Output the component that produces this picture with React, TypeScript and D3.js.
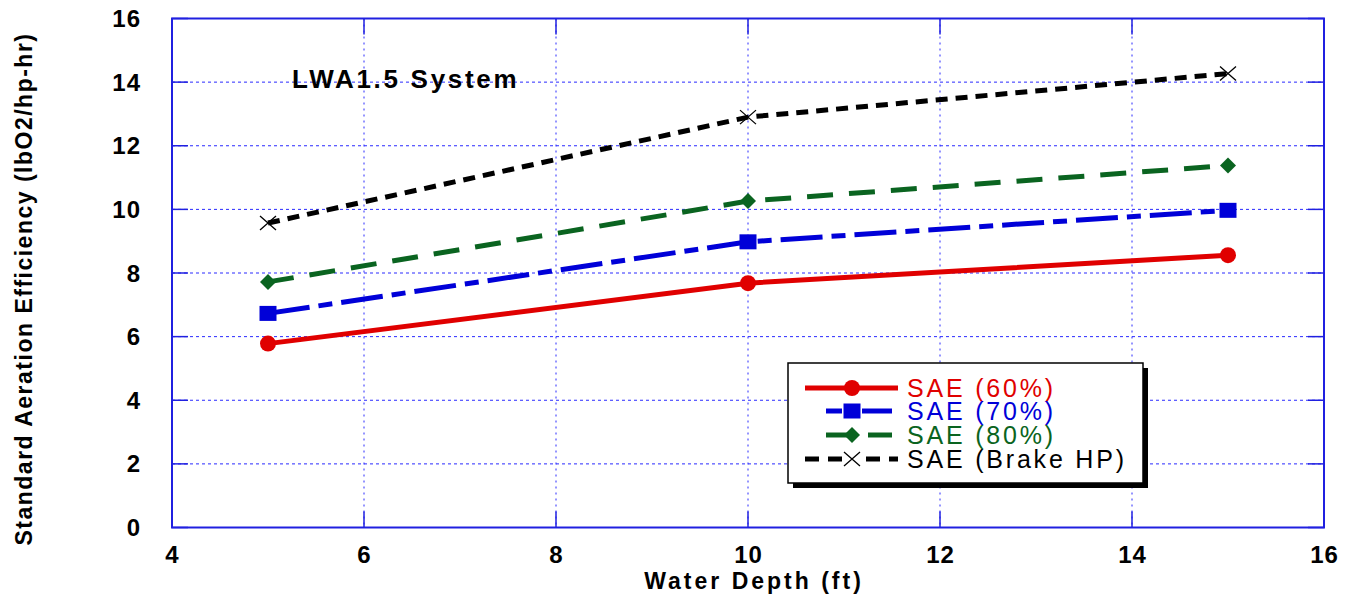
import { useEffect, useRef } from 'react';
import * as d3 from 'd3';

const depths = [5, 10, 15];
const sae60 = [5.78, 7.68, 8.56];
const sae70 = [6.73, 8.98, 9.97];
const sae80 = [7.72, 10.26, 11.38];
const saeBrake = [9.57, 12.9, 14.27];
const xTicks = [4, 6, 8, 10, 12, 14, 16];
const yTicks = [0, 2, 4, 6, 8, 10, 12, 14, 16];

const seriesNames = ['SAE (60%)', 'SAE (70%)', 'SAE (80%)', 'SAE (Brake HP)'];

const W = 1356;
const H = 598;
const M = { left: 172, right: 1324, top: 18.5, bottom: 527.5 };

const FONT = 'Arial, "Liberation Sans", Helvetica, sans-serif';

export default function App() {
  const svgRef = useRef<SVGSVGElement>(null);

  useEffect(() => {
    const svg = d3.select(svgRef.current);
    svg.selectAll('*').remove();

    const x = d3.scaleLinear().domain([4, 16]).range([M.left, M.right]);
    const y = d3.scaleLinear().domain([0, 16]).range([M.bottom, M.top]);

    const styles = [
      { values: sae60, color: '#e00000', dash: null, marker: 'circle' },
      { values: sae70, color: '#0000d8', dash: '42,9,14,9', marker: 'square' },
      { values: sae80, color: '#0a6420', dash: '26,16', marker: 'diamond' },
      { values: saeBrake, color: '#000000', dash: '12,8', marker: 'x' },
    ];

    // grid
    const grid = svg.append('g');
    yTicks.slice(1, -1).forEach(t => {
      grid.append('line').attr('x1', M.left).attr('x2', M.right).attr('y1', y(t)).attr('y2', y(t))
        .attr('stroke', '#2a2aff').attr('stroke-width', 1).attr('stroke-dasharray', '3,3');
    });
    xTicks.slice(1, -1).forEach(t => {
      grid.append('line').attr('y1', M.top).attr('y2', M.bottom).attr('x1', x(t)).attr('x2', x(t))
        .attr('stroke', '#2a2aff').attr('stroke-width', 1).attr('stroke-dasharray', '2,4');
    });

    // inner ticks
    const tk = 16;
    yTicks.forEach(t => {
      svg.append('line').attr('x1', M.left).attr('x2', M.left + tk).attr('y1', y(t)).attr('y2', y(t)).attr('stroke', '#2020e0').attr('stroke-width', 1.5);
      svg.append('line').attr('x1', M.right - tk).attr('x2', M.right).attr('y1', y(t)).attr('y2', y(t)).attr('stroke', '#2020e0').attr('stroke-width', 1.5);
    });
    xTicks.forEach(t => {
      svg.append('line').attr('y1', M.bottom).attr('y2', M.bottom - tk).attr('x1', x(t)).attr('x2', x(t)).attr('stroke', '#2020e0').attr('stroke-width', 1.5);
      svg.append('line').attr('y1', M.top).attr('y2', M.top + tk).attr('x1', x(t)).attr('x2', x(t)).attr('stroke', '#2020e0').attr('stroke-width', 1.5);
    });

    // frame
    svg.append('rect').attr('x', M.left).attr('y', M.top).attr('width', M.right - M.left).attr('height', M.bottom - M.top)
      .attr('fill', 'none').attr('stroke', '#2020e0').attr('stroke-width', 2);

    // tick labels
    svg.append('g').selectAll('text').data(yTicks).join('text')
      .attr('x', 141).attr('y', d => y(d) + 8.5).attr('text-anchor', 'end')
      .attr('font-family', FONT).attr('font-weight', 'bold').attr('font-size', 24).attr('letter-spacing', 1).text(d => d);
    svg.append('g').selectAll('text').data(xTicks).join('text')
      .attr('x', d => x(d) + 0.5).attr('y', 563).attr('text-anchor', 'middle')
      .attr('font-family', FONT).attr('font-weight', 'bold').attr('font-size', 24).attr('letter-spacing', 1).text(d => d);

    // axis titles
    svg.append('text').attr('x', 754).attr('y', 589).attr('text-anchor', 'middle')
      .attr('font-family', FONT).attr('font-weight', 'bold').attr('font-size', 23).attr('letter-spacing', 3)
      .text('Water Depth (ft)');
    svg.append('text').attr('transform', `translate(32,289) rotate(-90)`).attr('text-anchor', 'middle')
      .attr('font-family', FONT).attr('font-weight', 'bold').attr('font-size', 23).attr('letter-spacing', 1.5)
      .text('Standard Aeration Efficiency (lbO2/hp-hr)');

    // title
    svg.append('text').attr('x', 292).attr('y', 88).attr('font-family', FONT).attr('font-weight', 'bold')
      .attr('font-size', 26).attr('letter-spacing', 2.7).text('LWA1.5 System');

    const drawMarker = (g: any, kind: string, cx: number, cy: number, color: string) => {
      if (kind === 'circle') g.append('circle').attr('cx', cx).attr('cy', cy).attr('r', 8).attr('fill', color);
      else if (kind === 'square') g.append('rect').attr('x', cx - 8.5).attr('y', cy - 7.5).attr('width', 17).attr('height', 15).attr('fill', color);
      else if (kind === 'diamond') g.append('path').attr('d', `M${cx},${cy - 8}L${cx + 8},${cy}L${cx},${cy + 8}L${cx - 8},${cy}Z`).attr('fill', color);
      else {
        g.append('path').attr('d', `M${cx - 8},${cy - 7}L${cx + 8},${cy + 7}M${cx - 8},${cy + 7}L${cx + 8},${cy - 7}`)
          .attr('stroke', color).attr('stroke-width', 1.3).attr('fill', 'none');
      }
    };

    const line = d3.line<number>().x((_, i) => x(depths[i])).y(d => y(d));
    styles.forEach(s => {
      const g = svg.append('g');
      g.append('path').attr('d', line(s.values)).attr('fill', 'none').attr('stroke', s.color)
        .attr('stroke-width', 5).attr('stroke-dasharray', s.dash as any);
      s.values.forEach((v, i) => drawMarker(g, s.marker, x(depths[i]), y(v), s.color));
    });

    // legend
    const lg = svg.append('g');
    lg.append('rect').attr('x', 793).attr('y', 368).attr('width', 355).attr('height', 120).attr('fill', '#000');
    lg.append('rect').attr('x', 788).attr('y', 363).attr('width', 355).attr('height', 120).attr('fill', '#fff')
      .attr('stroke', '#000').attr('stroke-width', 1.5);
    const rowY = [388, 411, 435, 459];
    const legendLines = [
      [[805, 898]],
      [[826, 842], [862, 892]],
      [[826, 851], [868, 892]],
      [[805, 819], [828, 842], [866, 880], [889, 898]],
    ];
    styles.forEach((s, i) => {
      legendLines[i].forEach(([a, b]) => {
        lg.append('line').attr('x1', a).attr('x2', b).attr('y1', rowY[i]).attr('y2', rowY[i])
          .attr('stroke', s.color).attr('stroke-width', 5);
      });
      drawMarker(lg, s.marker, 852, rowY[i], s.color);
      lg.append('text').attr('x', 907).attr('y', rowY[i] + 9).attr('font-family', FONT).attr('font-size', 25)
        .attr('letter-spacing', 2.8).attr('fill', s.color).text(seriesNames[i]);
    });
  }, []);

  return <svg ref={svgRef} width={W} height={H} style={{ display: 'block', position: 'absolute', left: 0, top: 0, background: '#fff' }} />;
}
